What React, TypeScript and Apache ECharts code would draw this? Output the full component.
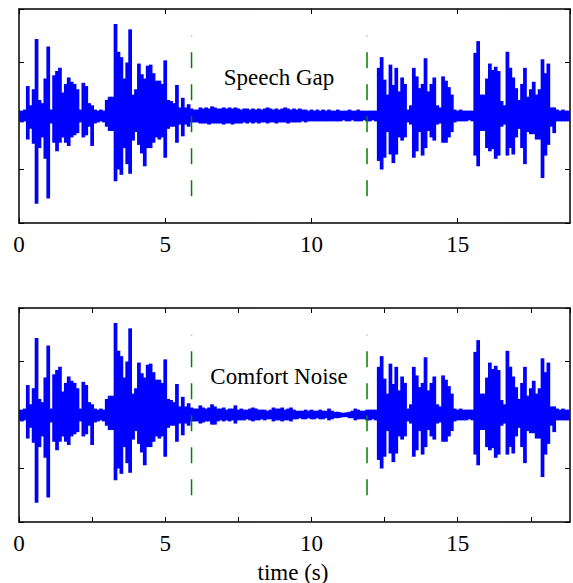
import React, { useEffect, useRef } from "react";
import * as echarts from "echarts";

// Sampling grid of the envelope (seconds)
const T_STEP = 0.1;
const X_MAX = 18.84;

// Speech part 1: 0.0 .. 6.1 s (envelope max / min)
const speechUpperA = [
  0.05, 0.05, 0.06, 0.28, 0.1, 0.25, 0.72, 0.15, 0.12, 0.35,
  0.65, 0.06, 0.38, 0.42, 0.45, 0.22, 0.3, 0.36, 0.32, 0.3,
  0.25, 0.06, 0.31, 0.28, 0.12, 0.1, 0.06, 0.05, 0.06, 0.05,
  0.15, 0.18, 0.18, 0.86, 0.6, 0.55, 0.35, 0.5, 0.81, 0.2,
  0.25, 0.49, 0.39, 0.35, 0.47, 0.48, 0.4, 0.33, 0.33, 0.3,
  0.52, 0.15, 0.14, 0.12, 0.29, 0.08, 0.17, 0.08, 0.11, 0.07,
  0.06, 0.06,
];
const speechLowerA = [
  -0.05, -0.06, -0.05, -0.22, -0.12, -0.26, -0.82, -0.3, -0.2, -0.4,
  -0.77, -0.07, -0.25, -0.33, -0.25, -0.2, -0.25, -0.28, -0.2, -0.18,
  -0.16, -0.06, -0.2, -0.18, -0.1, -0.28, -0.07, -0.06, -0.05, -0.06,
  -0.1, -0.14, -0.14, -0.61, -0.5, -0.55, -0.3, -0.45, -0.54, -0.23,
  -0.15, -0.27, -0.35, -0.47, -0.3, -0.3, -0.25, -0.2, -0.22, -0.2,
  -0.39, -0.12, -0.1, -0.1, -0.25, -0.08, -0.19, -0.08, -0.1, -0.06,
  -0.06, -0.06,
];

// Gap 6.2 .. 12.2 s, top plot (speech gap background noise)
const gapUpperTop = [
  0.08, 0.07, 0.08, 0.07, 0.09, 0.08, 0.07, 0.07, 0.08, 0.07,
  0.08, 0.07, 0.08, 0.07, 0.06, 0.07, 0.07, 0.06, 0.07, 0.06,
  0.07, 0.06, 0.07, 0.08, 0.07, 0.06, 0.07, 0.06, 0.07, 0.08,
  0.07, 0.06, 0.07, 0.06, 0.07, 0.06, 0.06, 0.05, 0.06, 0.05,
  0.06, 0.05, 0.06, 0.05, 0.06, 0.05, 0.05, 0.06, 0.05, 0.05,
  0.05, 0.06, 0.05, 0.05, 0.06, 0.05, 0.05, 0.05, 0.05, 0.05,
  0.05,
];
const gapLowerTop = [
  -0.07, -0.07, -0.07, -0.08, -0.07, -0.07, -0.07, -0.07, -0.08, -0.07,
  -0.07, -0.08, -0.07, -0.07, -0.07, -0.06, -0.07, -0.06, -0.07, -0.06,
  -0.07, -0.06, -0.06, -0.07, -0.06, -0.06, -0.07, -0.06, -0.06, -0.06,
  -0.07, -0.06, -0.06, -0.06, -0.06, -0.05, -0.06, -0.05, -0.05, -0.05,
  -0.05, -0.05, -0.05, -0.05, -0.05, -0.05, -0.05, -0.05, -0.05, -0.04,
  -0.05, -0.05, -0.04, -0.05, -0.05, -0.05, -0.04, -0.05, -0.05, -0.04,
  -0.05,
];

// Gap 6.2 .. 12.2 s, bottom plot (comfort noise)
const gapUpperBottom = [
  0.09, 0.07, 0.06, 0.07, 0.1, 0.08, 0.06, 0.06, 0.07, 0.05,
  0.06, 0.06, 0.09, 0.05, 0.06, 0.05, 0.05, 0.06, 0.07, 0.06,
  0.05, 0.05, 0.05, 0.04, 0.05, 0.07, 0.06, 0.06, 0.07, 0.05,
  0.06, 0.07, 0.05, 0.04, 0.04, 0.04, 0.05, 0.04, 0.05, 0.04,
  0.04, 0.05, 0.04, 0.04, 0.06, 0.04, 0.03, 0.03, 0.025, 0.02,
  0.025, 0.03, 0.04, 0.06, 0.05, 0.04, 0.04, 0.05, 0.05, 0.05,
  0.05,
];
const gapLowerBottom = [
  -0.08, -0.07, -0.06, -0.06, -0.09, -0.09, -0.06, -0.05, -0.06, -0.05,
  -0.06, -0.05, -0.08, -0.05, -0.05, -0.05, -0.04, -0.05, -0.06, -0.05,
  -0.05, -0.04, -0.05, -0.04, -0.04, -0.06, -0.05, -0.05, -0.06, -0.05,
  -0.05, -0.06, -0.04, -0.04, -0.03, -0.04, -0.04, -0.03, -0.04, -0.04,
  -0.03, -0.04, -0.04, -0.03, -0.05, -0.04, -0.03, -0.03, -0.025, -0.02,
  -0.02, -0.03, -0.03, -0.05, -0.04, -0.04, -0.04, -0.05, -0.05, -0.04,
  -0.05,
];

// Speech part 2: 12.3 .. 18.9 s
const speechUpperB = [
  0.45, 0.55, 0.34, 0.2, 0.48, 0.29, 0.45, 0.23, 0.36, 0.3,
  0.06, 0.1, 0.45, 0.37, 0.26, 0.3, 0.54, 0.23, 0.3, 0.36,
  0.1, 0.08, 0.37, 0.33, 0.27, 0.2, 0.06, 0.05, 0.06, 0.05,
  0.05, 0.05, 0.05, 0.59, 0.7, 0.2, 0.2, 0.35, 0.49, 0.43,
  0.46, 0.42, 0.14, 0.1, 0.6, 0.45, 0.36, 0.26, 0.15, 0.3,
  0.45, 0.18, 0.25, 0.32, 0.2, 0.25, 0.53, 0.4, 0.49, 0.08,
  0.08, 0.06, 0.05, 0.06, 0.05, 0.05, 0.05,
];
const speechLowerB = [
  -0.42, -0.5, -0.39, -0.15, -0.36, -0.44, -0.36, -0.2, -0.23, -0.2,
  -0.06, -0.08, -0.39, -0.33, -0.15, -0.37, -0.3, -0.14, -0.2, -0.23,
  -0.08, -0.07, -0.25, -0.25, -0.2, -0.15, -0.06, -0.05, -0.05, -0.05,
  -0.05, -0.04, -0.05, -0.37, -0.47, -0.14, -0.14, -0.3, -0.33, -0.31,
  -0.4, -0.37, -0.1, -0.08, -0.37, -0.3, -0.36, -0.2, -0.12, -0.3,
  -0.45, -0.15, -0.17, -0.17, -0.22, -0.22, -0.58, -0.37, -0.27, -0.1,
  -0.16, -0.05, -0.05, -0.05, -0.05, -0.05, -0.05,
];

// Gap boundaries (dashed markers) and their extent
const gapMarkers = [5.9, 11.9];
const markerSpan = [-0.75, 0.75];

const xTicksTop = 5;
const xTicksBottom = 2.5;
const yTick = 0.5;

const FONT = "Liberation Serif";

function toTriples(upper: number[], lower: number[]) {
  return upper.map((u, i) => [Math.round(i * T_STEP * 10) / 10, u, lower[i]]);
}

export default function App() {
  const ref = useRef<HTMLDivElement>(null);
  useEffect(() => {
    if (!ref.current) return;
    const chart = echarts.init(ref.current, undefined, { renderer: "svg" });

    const topUpper = [...speechUpperA, ...gapUpperTop, ...speechUpperB];
    const topLower = [...speechLowerA, ...gapLowerTop, ...speechLowerB];
    const botUpper = [...speechUpperA, ...gapUpperBottom, ...speechUpperB];
    const botLower = [...speechLowerA, ...gapLowerBottom, ...speechLowerB];

    const gridBase = {
      left: 19,
      width: 551,
      height: 214,
      show: false,
      containLabel: false,
    };

    const tick = { show: true, inside: true, length: 5, lineStyle: { color: "#000", width: 1 } };
    const line = { show: true, onZero: false, lineStyle: { color: "#000", width: 1.5 } };

    const xAx = (grid: number, position: string, interval: number, labels: boolean) => ({
      type: "value",
      gridIndex: grid,
      position,
      min: 0,
      max: X_MAX,
      interval,
      axisLine: line,
      axisTick: tick,
      splitLine: { show: false },
      axisLabel: labels
        ? {
            show: true,
            color: "#000",
            fontFamily: FONT,
            fontSize: 23,
            margin: 10,
            showMaxLabel: false,
            formatter: (v: number) => (Math.abs(v % 5) < 1e-9 ? String(v) : ""),
          }
        : { show: false },
    });

    const yAx = (grid: number, position: string) => ({
      type: "value",
      gridIndex: grid,
      position,
      min: -1,
      max: 1,
      interval: yTick,
      axisLine: line,
      axisTick: tick,
      splitLine: { show: false },
      axisLabel: { show: false },
    });

    const wave = (xi: number, yi: number, upper: number[], lower: number[]) => ({
      type: "custom",
      xAxisIndex: xi,
      yAxisIndex: yi,
      data: toTriples(upper, lower),
      encode: { x: 0, y: [1, 2] },
      silent: true,
      clip: true,
      renderItem: (params: any, api: any) => {
        const t = api.value(0);
        const hi = api.value(1);
        const lo = api.value(2);
        const p1 = api.coord([t - T_STEP / 2, hi]);
        const p2 = api.coord([t + T_STEP / 2, lo]);
        return {
          type: "rect",
          shape: {
            x: p1[0] - 0.4,
            y: p1[1],
            width: p2[0] - p1[0] + 0.8,
            height: p2[1] - p1[1],
          },
          style: { fill: "#0000ff" },
        };
      },
      z: 2,
    });

    const markers = (xi: number, yi: number) =>
      gapMarkers.map((m) => ({
        type: "line",
        xAxisIndex: xi,
        yAxisIndex: yi,
        data: [
          [m, markerSpan[0]],
          [m, markerSpan[1]],
        ],
        symbol: "none",
        silent: true,
        lineStyle: { color: "#008000", width: 1.5, type: [16, 16] },
        z: 5,
      }));

    const textStyle = {
      fontFamily: FONT,
      fontSize: 23,
      fill: "#000",
      align: "center",
      verticalAlign: "middle",
    };

    const option: any = {
      animation: false,
      grid: [
        { ...gridBase, top: 9 },
        { ...gridBase, top: 308 },
      ],
      xAxis: [
        xAx(0, "bottom", xTicksTop, true),
        xAx(0, "top", xTicksTop, false),
        xAx(1, "bottom", xTicksBottom, true),
        xAx(1, "top", xTicksBottom, false),
      ],
      yAxis: [yAx(0, "left"), yAx(0, "right"), yAx(1, "left"), yAx(1, "right")],
      series: [
        wave(0, 0, topUpper, topLower),
        wave(2, 2, botUpper, botLower),
        ...markers(0, 0),
        ...markers(2, 2),
      ],
      graphic: [
        { type: "text", x: 279, y: 77, style: { ...textStyle, text: "Speech Gap" }, z: 10 },
        { type: "text", x: 279, y: 376, style: { ...textStyle, text: "Comfort Noise" }, z: 10 },
        { type: "text", x: 293, y: 572, style: { ...textStyle, text: "time (s)" }, z: 10 },
      ],
    };
    chart.setOption(option);
    return () => chart.dispose();
  }, []);

  return (
    <div
      ref={ref}
      style={{ position: "fixed", left: 0, top: 0, width: 573, height: 583, background: "#fff" }}
    />
  );
}
